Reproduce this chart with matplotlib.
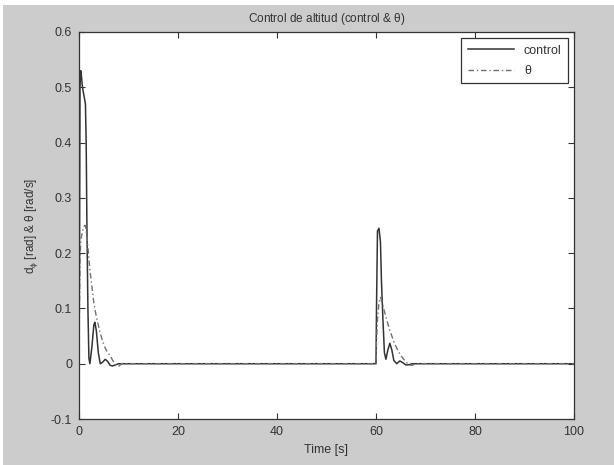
import matplotlib
matplotlib.use("Agg")
import matplotlib.pyplot as plt
import matplotlib.patches as pat

# time samples (s) and values
t_data = [0, 0.1, 0.2, 0.35, 0.5, 0.7, 0.9, 1.1, 1.3, 1.45, 1.6, 1.8, 2.0, 2.2,
          2.6, 3.0, 3.2, 3.5, 3.9, 4.3, 4.8, 5.3, 5.8, 6.3, 6.8, 7.4, 8.0, 8.6,
          60.0, 60.1, 60.3, 60.6, 60.9, 61.1, 61.4, 61.7, 62.0, 62.4, 62.8,
          63.2, 63.6, 64.2, 64.8, 65.4, 66.0, 66.6, 67.3, 68.0, 100]

control = [0, 0.20, 0.50, 0.53, 0.52, 0.50, 0.49, 0.48, 0.47, 0.40, 0.25, 0.10, 0.01, 0.0,
           0.03, 0.07, 0.075, 0.06, 0.02, 0.0, 0.003, 0.008, 0.004, -0.003, -0.004, -0.002, 0, 0,
           0, 0.10, 0.24, 0.245, 0.22, 0.15, 0.08, 0.02, 0.008, 0.025, 0.037,
           0.025, 0.006, 0.0, 0.005, 0.002, -0.002, -0.002, 0, 0, 0]

theta = [0, 0.10, 0.19, 0.22, 0.23, 0.24, 0.245, 0.25, 0.25, 0.24, 0.23, 0.21, 0.19, 0.17,
         0.14, 0.11, 0.10, 0.085, 0.07, 0.055, 0.04, 0.028, 0.02, 0.015, 0.006, -0.002, -0.005, 0,
         0, 0.04, 0.08, 0.11, 0.12, 0.115, 0.105, 0.095, 0.085, 0.072, 0.06,
         0.05, 0.04, 0.028, 0.018, 0.01, 0.004, -0.002, -0.003, 0, 0]

x_ticks = [0, 20, 40, 60, 80, 100]
y_ticks = [-0.1, 0, 0.1, 0.2, 0.3, 0.4, 0.5, 0.6]

plt.rcParams['font.family'] = ['Liberation Sans', 'DejaVu Sans']
plt.rcParams['mathtext.fontset'] = 'custom'
plt.rcParams['mathtext.rm'] = 'Liberation Sans'
plt.rcParams['mathtext.it'] = 'Liberation Sans'

txt = "#333333"
fig = plt.figure(figsize=(6.14, 4.65), dpi=100, facecolor="white")
# grey MATLAB-like window background, small white margin top/left
fig.patches.append(pat.Rectangle((3/614, 0), 1, 1 - 5/465, transform=fig.transFigure,
                                 facecolor="#cccccc", edgecolor="none", zorder=-1))

ax = fig.add_axes([79/614, 1 - 419/465, (574 - 79)/614, (419 - 32)/465])
ax.set_facecolor("white")

ax.plot(t_data, control, color="#333333", lw=1.1, ls="-", label="control")
ax.plot(t_data, theta, color="#707070", lw=1.0, ls=(0, (4, 2, 1, 2)), label=r"$\theta$")

ax.set_xlim(0, 100)
ax.set_ylim(-0.1, 0.6)
ax.set_xticks(x_ticks)
ax.set_yticks(y_ticks)
ax.set_yticklabels(["-0.1", "0", "0.1", "0.2", "0.3", "0.4", "0.5", "0.6"])
ax.tick_params(direction="in", top=True, right=True, length=4, width=0.8,
               colors=txt, labelsize=9, pad=5)
for s in ax.spines.values():
    s.set_color("#333333")
    s.set_linewidth(0.9)

ax.set_title(r"Control de altitud (control & $\theta$)", fontsize=8.5, color=txt, pad=7)
ax.set_xlabel("Time [s]", fontsize=9, color=txt, labelpad=4)
ax.set_ylabel(r"d$_\phi$ [rad] & $\theta$ [rad/s]", fontsize=8.5, color=txt, labelpad=8)

leg = ax.legend(loc="upper right", fontsize=9, fancybox=False, framealpha=1,
                edgecolor="#333333", handlelength=3.7, borderaxespad=0.5,
                labelspacing=0.6, borderpad=0.5)
leg.get_frame().set_linewidth(0.9)
for t in leg.get_texts():
    t.set_color(txt)

fig.savefig("out.png", dpi=100)
